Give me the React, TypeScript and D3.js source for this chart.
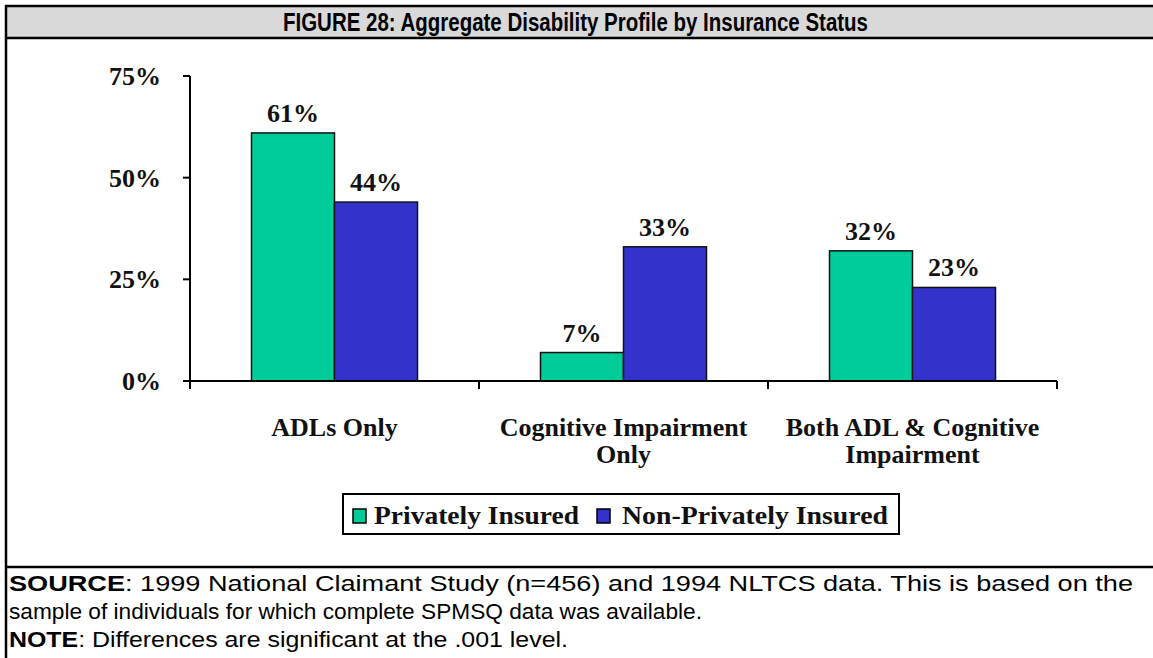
import React from "react";
import * as d3 from "d3";

const categories: string[][] = [
  ["ADLs Only"],
  ["Cognitive Impairment", "Only"],
  ["Both ADL & Cognitive", "Impairment"],
];
const categoryKeys = ["adl", "cog", "both"];
const seriesNames = ["Privately Insured", "Non-Privately Insured"];
const privatelyInsured = [61, 7, 32];
const nonPrivatelyInsured = [44, 33, 23];
const seriesColors = ["#00CC99", "#3333CC"];
const yTicks = [0, 25, 50, 75];

const W = 1153;
const H = 658;

export default function App() {
  const x = d3.scaleBand<string>().domain(categoryKeys).range([190, 1057]).padding(0);
  const y = d3.scaleLinear().domain([0, 75]).range([381, 76]);
  const bw = x.bandwidth();
  const inner = d3.scaleBand<string>().domain(seriesNames).range([bw / 2 - 83, bw / 2 + 83]).padding(0);
  const seriesValues = [privatelyInsured, nonPrivatelyInsured];
  const serif = "'Liberation Serif', 'Times New Roman', serif";
  const sans = "'Liberation Sans', Arial, sans-serif";

  return (
    <svg width={W} height={H} style={{ position: "absolute", left: 0, top: 0, background: "#fff" }}>
      {/* frame */}
      <rect x={6} y={6} width={W - 6} height={31} fill="#D9D9D9" />
      <line x1={5} x2={W} y1={6} y2={6} stroke="#000" strokeWidth={2.5} />
      <line x1={5} x2={W} y1={38} y2={38} stroke="#000" strokeWidth={2.5} />
      <line x1={6} x2={6} y1={5} y2={H} stroke="#000" strokeWidth={2.5} />
      <line x1={5} x2={W} y1={567} y2={567} stroke="#000" strokeWidth={2.5} />
      <text x={575.5} y={30.5} textAnchor="middle" fontFamily={sans} fontWeight="bold" fontSize={25}
        textLength={585} lengthAdjust="spacingAndGlyphs">
        FIGURE 28: Aggregate Disability Profile by Insurance Status
      </text>

      {/* bars */}
      {categoryKeys.map((k, ci) =>
        seriesNames.map((s, si) => {
          const v = seriesValues[si][ci];
          const bx = (x(k) ?? 0) + (inner(s) ?? 0);
          return (
            <g key={k + s}>
              <rect x={bx} y={y(v)} width={inner.bandwidth()} height={y(0) - y(v)}
                fill={seriesColors[si]} stroke="#111" strokeWidth={1.5} />
              <text x={bx + inner.bandwidth() / 2} y={y(v) - 11} textAnchor="middle"
                fontFamily={serif} fontWeight="bold" fontSize={26} fill="#111">
                {v}%
              </text>
            </g>
          );
        })
      )}

      {/* y axis */}
      <line x1={190} x2={190} y1={y(75)} y2={389} stroke="#000" strokeWidth={2} />
      {yTicks.map((t) => (
        <g key={t}>
          <line x1={183} x2={190} y1={y(t)} y2={y(t)} stroke="#000" strokeWidth={2} />
          <text x={161} y={y(t)} dy="0.35em" textAnchor="end" fontFamily={serif} fontWeight="bold"
            fontSize={26} fill="#111">
            {t}%
          </text>
        </g>
      ))}

      {/* x axis */}
      <line x1={183} x2={1057} y1={y(0)} y2={y(0)} stroke="#000" strokeWidth={2} />
      {categoryKeys.map((k) => (
        <line key={k} x1={(x(k) ?? 0) + bw} x2={(x(k) ?? 0) + bw} y1={y(0)} y2={389}
          stroke="#000" strokeWidth={2} />
      ))}
      {categoryKeys.map((k, ci) => (
        <text key={k} x={(x(k) ?? 0) + bw / 2} y={436} textAnchor="middle" fontFamily={serif}
          fontWeight="bold" fontSize={26} fill="#111">
          {categories[ci].map((line, li) => (
            <tspan key={li} x={(x(k) ?? 0) + bw / 2} dy={li === 0 ? 0 : 27}>{line}</tspan>
          ))}
        </text>
      ))}

      {/* legend */}
      <rect x={343} y={494} width={556} height={40} fill="#fff" stroke="#000" strokeWidth={2} />
      <rect x={353} y={509} width={13} height={14} fill={seriesColors[0]} stroke="#000" strokeWidth={1.5} />
      <text x={374} y={524} fontFamily={serif} fontWeight="bold" fontSize={26} fill="#111"
        textLength={205} lengthAdjust="spacingAndGlyphs">{seriesNames[0]}</text>
      <rect x={597} y={509} width={13} height={14} fill={seriesColors[1]} stroke="#000" strokeWidth={1.5} />
      <text x={622} y={524} fontFamily={serif} fontWeight="bold" fontSize={26} fill="#111"
        textLength={266} lengthAdjust="spacingAndGlyphs">{seriesNames[1]}</text>

      {/* notes */}
      <g style={{ whiteSpace: "pre" }}>
        <text x={9} y={591} fontFamily={sans} fontSize={22} fill="#000" textLength={1124} lengthAdjust="spacingAndGlyphs">
          <tspan fontWeight="bold">SOURCE</tspan>{":  1999 National Claimant Study (n=456) and 1994 NLTCS data. This is based on the"}
        </text>
        <text x={9} y={619} fontFamily={sans} fontSize={22} fill="#000" textLength={693} lengthAdjust="spacingAndGlyphs">
          {"sample of individuals for which complete SPMSQ data was available."}
        </text>
        <text x={9} y={647} fontFamily={sans} fontSize={22} fill="#000" textLength={559} lengthAdjust="spacingAndGlyphs">
          <tspan fontWeight="bold">NOTE</tspan>{":  Differences are significant at the .001 level."}
        </text>
      </g>
    </svg>
  );
}
